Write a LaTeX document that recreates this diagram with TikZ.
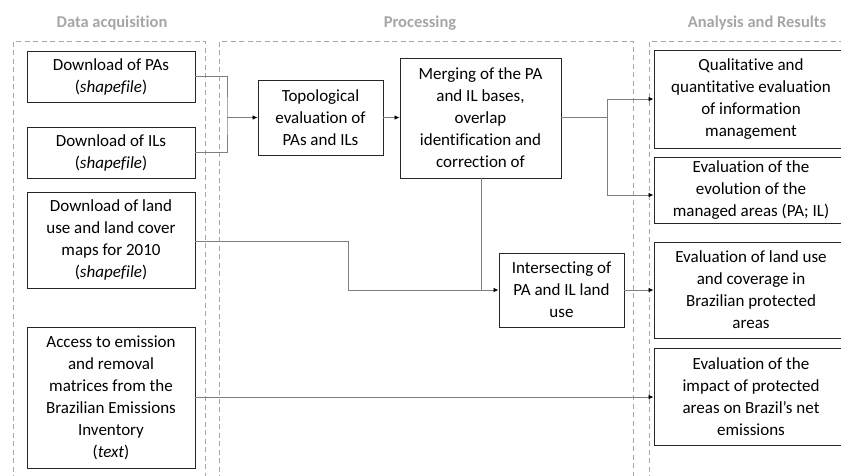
\documentclass[tikz,border=0pt]{standalone}
\usepackage{fontspec}
\setmainfont{Carlito}[Ligatures={NoCommon}]
\usetikzlibrary{arrows.meta}
\definecolor{dashgray}{HTML}{A6A6A6}
\definecolor{linegray}{HTML}{7F7F7F}
\definecolor{boxline}{HTML}{262626}
\begin{document}
\begin{tikzpicture}[x=1pt,y=-1pt,
  box/.style={draw=boxline, line width=0.9pt, align=center, inner sep=0pt,
    font=\fontsize{17}{22}\selectfont},
  title/.style={text=dashgray, font=\fontsize{16.5}{20}\selectfont\bfseries},
  frame/.style={draw=dashgray, line width=0.8pt, dash pattern=on 5pt off 3.5pt},
  conn/.style={draw=linegray, line width=0.8pt},
  arr/.style={conn, -{Latex[length=5pt,width=4.5pt,fill=black,color=black]}}]
\useasboundingbox (0,0) rectangle (841,475);
\clip (0,0) rectangle (841,475);
% titles
\node[title] (t1) at (112,23) {Data acquisition};
\node[title] (t2) at (420,23) {Processing};
\node[title] (t3) at (757,23) {Analysis and Results};
% dashed frames
\draw[frame] (13,480) -- (13,41) -- (205,41) -- (205,480);
\draw[frame] (219,480) -- (219,41) -- (633,41) -- (633,480);
\draw[frame] (649,480) -- (649,41) -- (860,41);
% boxes
\node[box, minimum width=168pt, minimum height=51pt] (pa) at (111,76.5) {Download of PAs\\(\textit{shapefile})};
\node[box, minimum width=168pt, minimum height=51pt] (il) at (111,152.5) {Download of ILs\\(\textit{shapefile})};
\node[box, minimum width=168pt, minimum height=96pt] (lu) at (111,240) {Download of land\\use and land cover\\maps for 2010\\(\textit{shapefile})};
\node[box, minimum width=168pt, minimum height=141pt] (em) at (111,397.5) {Access to emission\\and removal\\matrices from the\\Brazilian Emissions\\Inventory\\(\textit{text})};
\node[box, minimum width=125pt, minimum height=75pt] (topo) at (320.5,117.5) {Topological\\evaluation of\\PAs and ILs};
\node[box, minimum width=161pt, minimum height=120pt] (merge) at (480.5,118) {Merging of the PA\\and IL bases,\\overlap\\identification and\\correction of};
\node[box, minimum width=125pt, minimum height=74pt] (inter) at (561.5,290) {Intersecting of\\PA and IL land\\use};
\node[box, minimum width=194pt, minimum height=98pt] (q) at (751,99) {Qualitative and\\quantitative evaluation\\of information\\management};
\node[box, minimum width=194pt, minimum height=66pt] (ev) at (751,190) {Evaluation of the\\evolution of the\\managed areas (PA; IL)};
\node[box, minimum width=194pt, minimum height=96pt] (lc) at (751,290) {Evaluation of land use\\and coverage in\\Brazilian protected\\areas};
\node[box, minimum width=194pt, minimum height=97pt] (im) at (751,396.5) {Evaluation of the\\impact of protected\\areas on Brazil{\char"0027}s net\\emissions};
% junction coordinates
\coordinate (j1) at (227,117.5);
\coordinate (j2) at (607,117.5);
\coordinate (j2a) at (607,99);
\coordinate (j2b) at (607,195);
\coordinate (j3) at (348,290);
\coordinate (j4) at (481,290);
% connectors
\draw[conn] (pa.east) -| (j1) |- (il.east);
\draw[arr] (j1) -- (topo.west);
\draw[arr] (topo.east) -- (merge.west |- topo.east);
\draw[conn] (merge.east |- j2) -- (j2);
\draw[conn] (j2a) -- (j2b);
\draw[arr] (j2a) -- (q.west);
\draw[arr] (j2b) -- (j2b -| ev.west);
\draw[conn] (lu.east |- 0,241) -| (j3);
\draw[arr] (j3) -- (inter.west);
\draw[conn] (merge.south -| j4) -- (j4);
\draw[arr] (inter.east) -- (lc.west);
\draw[arr] (em.east |- 0,397) -- (im.west |- 0,397);
\end{tikzpicture}
\end{document}
